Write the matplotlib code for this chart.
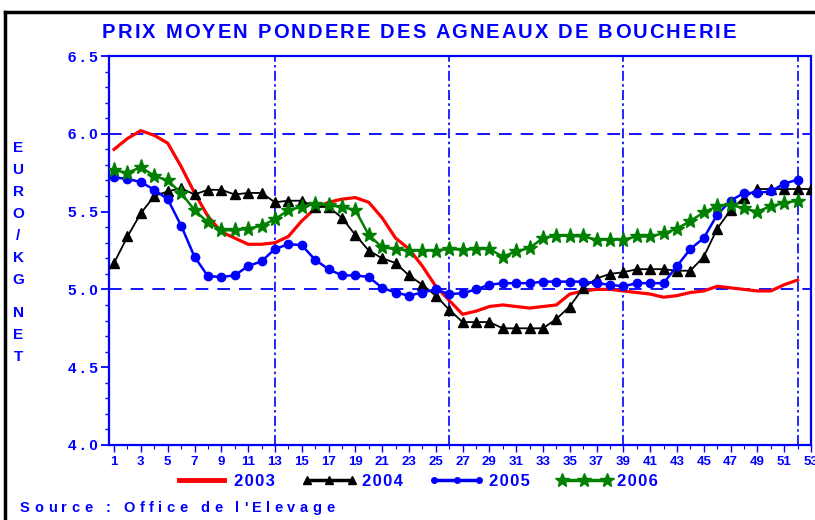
import matplotlib
matplotlib.use("Agg")
import matplotlib.pyplot as plt
from matplotlib.lines import Line2D
from matplotlib.font_manager import FontProperties
import numpy as np

weeks_2003 = list(range(1, 53))
price_2003 = [5.90, 5.97, 6.02, 5.99, 5.94, 5.79, 5.62, 5.47, 5.37, 5.33, 5.29, 5.29, 5.30,
              5.34, 5.44, 5.52, 5.56, 5.58, 5.59, 5.56, 5.46, 5.33, 5.26, 5.15, 5.02, 4.93,
              4.84, 4.86, 4.89, 4.90, 4.89, 4.88, 4.89, 4.90, 4.97, 4.99, 5.00, 5.00, 4.99,
              4.98, 4.97, 4.95, 4.96, 4.98, 4.99, 5.02, 5.01, 5.00, 4.99, 4.99, 5.03, 5.06]

weeks_2004 = list(range(1, 54))
price_2004 = [5.17, 5.34, 5.49, 5.60, 5.63, 5.65, 5.61, 5.64, 5.64, 5.61, 5.62, 5.62, 5.56,
              5.57, 5.57, 5.53, 5.53, 5.46, 5.35, 5.25, 5.20, 5.17, 5.09, 5.03, 4.96, 4.87,
              4.79, 4.79, 4.79, 4.75, 4.75, 4.75, 4.75, 4.81, 4.89, 5.01, 5.07, 5.10, 5.11,
              5.13, 5.13, 5.13, 5.12, 5.12, 5.21, 5.39, 5.51, 5.59, 5.645, 5.645, 5.645, 5.645, 5.645]

weeks_2005 = list(range(1, 53))
price_2005 = [5.72, 5.71, 5.69, 5.64, 5.58, 5.41, 5.21, 5.085, 5.08, 5.09, 5.15, 5.18, 5.26,
              5.29, 5.285, 5.19, 5.13, 5.09, 5.09, 5.08, 5.01, 4.98, 4.96, 4.98, 5.00, 4.97,
              4.975, 5.00, 5.03, 5.04, 5.04, 5.04, 5.05, 5.05, 5.05, 5.05, 5.04, 5.03, 5.02,
              5.04, 5.04, 5.04, 5.15, 5.26, 5.33, 5.48, 5.57, 5.62, 5.62, 5.63, 5.68, 5.705]

weeks_2006 = list(range(1, 53))
price_2006 = [5.765, 5.75, 5.785, 5.73, 5.70, 5.62, 5.51, 5.43, 5.38, 5.38, 5.39, 5.41, 5.45,
              5.51, 5.53, 5.55, 5.54, 5.53, 5.51, 5.35, 5.27, 5.26, 5.25, 5.25, 5.25, 5.26,
              5.255, 5.26, 5.26, 5.21, 5.245, 5.265, 5.33, 5.345, 5.345, 5.34, 5.32, 5.32, 5.32,
              5.34, 5.34, 5.36, 5.39, 5.44, 5.495, 5.535, 5.545, 5.52, 5.50, 5.535, 5.555, 5.57]

year_labels = ["2003", "2004", "2005", "2006"]
y_ticks = [4.0, 4.5, 5.0, 5.5, 6.0, 6.5]
y_tick_labels = ["4 . 0", "4 . 5", "5 . 0", "5 . 5", "6 . 0", "6 . 5"]
x_ticks = list(range(1, 54, 2))
vgrid_weeks = [13, 26, 39, 52]
hgrid_values = [4.0, 5.0, 6.0]
title = "PRIX MOYEN PONDERE DES AGNEAUX DE BOUCHERIE"
y_label = "EURO/KG NET"
source = "Source : Office de l'Elevage"

BLUE = "#0000ff"
FONT = "Liberation Sans"
W, H = 815, 520

fig = plt.figure(figsize=(8.15, 5.20), dpi=100)
ax = fig.add_axes([109/W, 1 - 445/H, (811-109)/W, (445-56)/H])
renderer = fig.canvas.get_renderer()


def text_width(s, fp):
    w_bar = renderer.get_text_width_height_descent("|", fp, ismath=False)[0]
    w = renderer.get_text_width_height_descent(s + "|", fp, ismath=False)[0]
    return w - w_bar


def spaced_text(s, x_px, y_px, track_px, size, ha="left"):
    fp = FontProperties(family=FONT, weight="bold", size=size)
    total = text_width(s, fp) + track_px * (len(s) - 1)
    x0 = x_px - total / 2 if ha == "center" else x_px
    for i, c in enumerate(s):
        if c == " ":
            continue
        xp = x0 + text_width(s[:i], fp) + i * track_px
        fig.text(xp / W, 1 - y_px / H, c, ha="left", va="center", color=BLUE,
                 fontproperties=fp)


ax.plot(weeks_2003, price_2003, color="#ff0000", lw=2.3, zorder=3)
ax.plot(weeks_2004, price_2004, color="black", lw=1.3, marker="^", ms=7, zorder=4)
ax.plot(weeks_2005, price_2005, color=BLUE, lw=1.8, marker="o", ms=6, zorder=5)
ax.plot(weeks_2006, price_2006, color="#008000", lw=1.8, marker="*", ms=11, zorder=6)

ax.set_xlim(0.62, 53.0)
ax.set_ylim(4.0, 6.5)

for w in vgrid_weeks:
    ax.axvline(w, color=BLUE, lw=1.2, linestyle=(0, (6, 2, 1.5, 2)), zorder=1)
for v in hgrid_values:
    ax.axhline(v, color=BLUE, lw=1.3, linestyle=(0, (7, 5)), zorder=1)

for s in ax.spines.values():
    s.set_color(BLUE)
    s.set_linewidth(1.6)

ax.set_yticks(y_ticks)
ax.set_yticklabels(y_tick_labels)
ax.set_yticks(np.arange(4.0, 6.5001, 0.1), minor=True)
ax.set_xticks(x_ticks)
ax.set_xticks(range(1, 54), minor=True)
ax.tick_params(axis="both", which="both", colors=BLUE, direction="out")
ax.tick_params(axis="y", which="major", length=6, width=1.3, pad=2)
ax.tick_params(axis="y", which="minor", length=3, width=1.0)
ax.tick_params(axis="x", which="major", length=5, width=1.0, pad=3)
ax.tick_params(axis="x", which="minor", length=3, width=0.8)
for lab in ax.get_yticklabels():
    lab.set_fontfamily(FONT); lab.set_fontweight("bold"); lab.set_fontsize(11); lab.set_color(BLUE)
for lab in ax.get_xticklabels():
    lab.set_fontfamily(FONT); lab.set_fontweight("bold"); lab.set_fontsize(9.5); lab.set_color(BLUE)

# title with letter spacing
spaced_text(title, 419, 32, 2.1, 14.5, ha="center")

# vertical stacked y label
ypix = 148
for c in y_label:
    if c == " ":
        ypix += 11
        continue
    fig.text(18/W, 1 - ypix/H, c, ha="center", va="center", color=BLUE,
             fontsize=11, fontweight="bold", family=FONT)
    ypix += 22

# source with letter spacing
spaced_text(source, 20, 508, 4.5, 10.5, ha="left")

handles = [
    Line2D([], [], color="#ff0000", lw=3.5),
    Line2D([], [], color="black", lw=2.5, marker="^", ms=6),
    Line2D([], [], color=BLUE, lw=2.5, marker="o", ms=4),
    Line2D([], [], color="#008000", lw=2.5, marker="*", ms=10),
]
leg_labels = ["\u200a".join(lbl) for lbl in year_labels]
leg = fig.legend(handles, leg_labels, loc="center", bbox_to_anchor=(416/W, 1 - 481/H),
                 ncol=4, frameon=False, numpoints=3, handlelength=3.3, columnspacing=1.6,
                 handletextpad=0.3, prop={"family": FONT, "weight": "bold", "size": 12})
for t in leg.get_texts():
    t.set_color(BLUE)

# outer black border
fig.add_artist(Line2D([5/W, 1.0], [1 - 12/H, 1 - 12/H], color="black", lw=2.5,
                      transform=fig.transFigure))
fig.add_artist(Line2D([5/W, 5/W], [1 - 12/H, 0.0], color="black", lw=2.5,
                      transform=fig.transFigure))

fig.savefig("out.png", dpi=100)
